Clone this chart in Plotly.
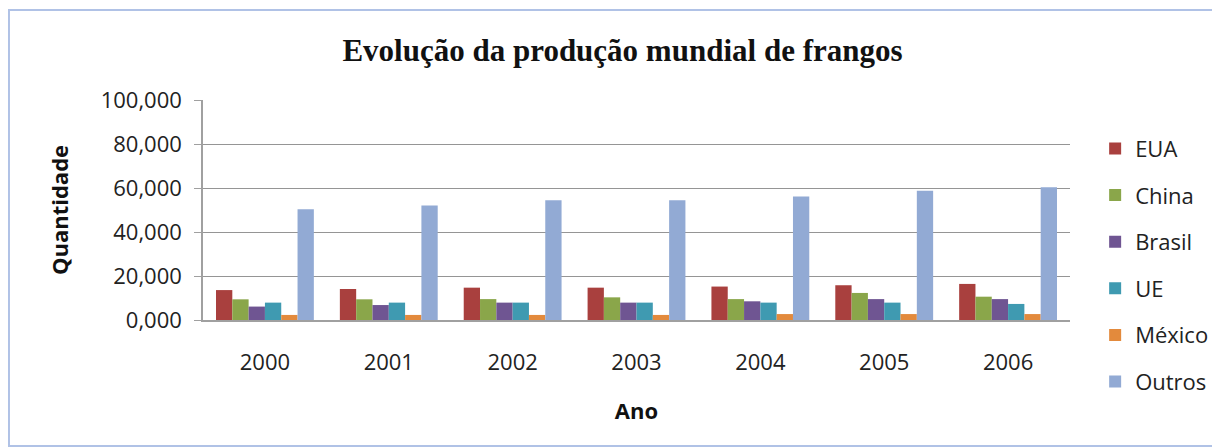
import plotly.graph_objects as go

# dados (milhares de toneladas)
anos = ["2000", "2001", "2002", "2003", "2004", "2005", "2006"]
eua = [13.6, 14.1, 14.7, 14.7, 15.2, 15.8, 16.4]
china = [9.4, 9.4, 9.5, 10.3, 9.5, 12.3, 10.6]
brasil = [6.1, 6.8, 7.9, 7.9, 8.5, 9.5, 9.5]
ue = [7.9, 7.9, 7.9, 7.9, 7.9, 7.9, 7.3]
mexico = [2.3, 2.3, 2.3, 2.3, 2.7, 2.7, 2.7]
outros = [50.3, 52.1, 54.4, 54.4, 56.1, 58.8, 60.3]

y_ticks = [0, 20, 40, 60, 80, 100]
y_tick_labels = ["0,000", "20,000", "40,000", "60,000", "80,000", "100,000"]

series = [
    ("EUA", eua, "#A9403E"),
    ("China", china, "#8AA64A"),
    ("Brasil", brasil, "#6F5592"),
    ("UE", ue, "#3F9AB1"),
    ("México", mexico, "#E38A3C"),
    ("Outros", outros, "#92AAD4"),
]

fig = go.Figure()
for nome, valores, cor in series:
    fig.add_trace(go.Bar(
        x=anos, y=valores, name=nome, legendgroup=nome,
        marker=dict(color=cor, line=dict(width=0)),
    ))

font_sans = "Open Sans, Liberation Sans, sans-serif"

# a página tem margem de 8px, por isso a figura é 8px menor
fig.update_layout(
    width=1212, height=440,
    paper_bgcolor="white", plot_bgcolor="white",
    margin=dict(l=195, r=150, t=92, b=128, autoexpand=False),
    barmode="group", bargap=0.21, bargroupgap=0,
    title=dict(
        text="<b>Evolução da produção mundial de frangos</b>",
        x=0.507, xanchor="center", y=0.905, yanchor="middle",
        font=dict(family="Liberation Serif, serif", size=31, color="#111"),
    ),
    font=dict(family=font_sans, size=22, color="#222"),
    legend=dict(
        x=1.029, y=0.728, xanchor="left", yanchor="top",
        xref="paper", yref="container",
        font=dict(size=22, color="#222"),
        tracegroupgap=15, itemwidth=30, maxheight=400,
        bgcolor="rgba(0,0,0,0)",
    ),
    showlegend=True,
)

fig.update_xaxes(
    showline=True, linecolor="#a0a0a0", linewidth=1.5,
    ticks="", tickfont=dict(size=22, color="#222"), ticklabelstandoff=22,
    title=dict(text="<b>Ano</b>", font=dict(size=22, color="#111"), standoff=28),
)
fig.update_yaxes(
    range=[0, 100], tickvals=y_ticks, ticktext=y_tick_labels,
    showgrid=True, gridcolor="#959595", gridwidth=1.2,
    showline=True, linecolor="#a0a0a0", linewidth=1.5,
    ticks="outside", ticklen=7, tickcolor="#a0a0a0", ticklabelstandoff=8,
    tickfont=dict(size=22, color="#222"),
    title=dict(text="<b>Quantidade</b>", font=dict(size=22, color="#111"), standoff=26),
    zeroline=False,
)

# moldura do gráfico
fig.add_shape(
    type="rect", xref="paper", yref="paper",
    x0=-0.2238, x1=1.1719, y0=-0.573, y1=1.4091,
    line=dict(color="#b0c2e6", width=2), fillcolor="rgba(0,0,0,0)", layer="below",
)

fig.write_html("out.html")
